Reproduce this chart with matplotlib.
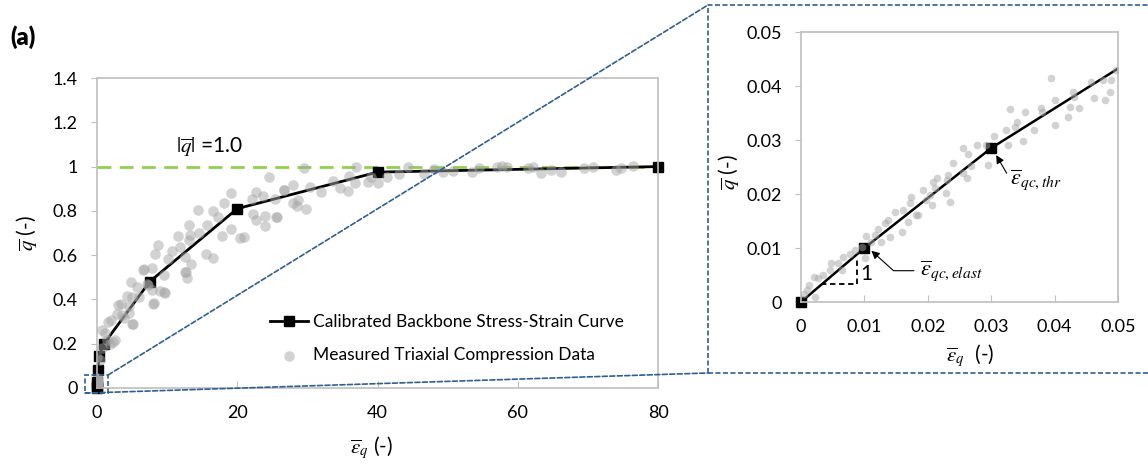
import numpy as np
import matplotlib
matplotlib.use('Agg')
import matplotlib.pyplot as plt
from matplotlib.patches import Rectangle, ConnectionPatch
from matplotlib.lines import Line2D
from matplotlib.ticker import FuncFormatter

plt.rcParams['font.family'] = ['Lato', 'DejaVu Sans']
plt.rcParams['mathtext.fontset'] = 'stix'

# calibrated backbone curve (strain in %, normalised deviator stress)
bb_eps = [0, 0.01, 0.03, 0.1, 0.3, 1.0, 7.5, 20, 40, 80]
bb_q = [0, 0.01, 0.0285, 0.08, 0.145, 0.2, 0.48, 0.81, 0.975, 1.0]

# measured triaxial data, small strains (shown in the zoom panel)
small_eps = [0.0005, 0.0009, 0.0012, 0.0022, 0.0020, 0.0027, 0.0035, 0.0046, 0.0048,
             0.0059, 0.0064, 0.0067, 0.0077, 0.0085, 0.0096, 0.0101, 0.0103, 0.0111,
             0.0117, 0.0122, 0.0126, 0.0132, 0.0138, 0.0140, 0.0148, 0.0159, 0.0161,
             0.0169, 0.0172, 0.0174, 0.0182, 0.0193, 0.0203, 0.0206, 0.0208, 0.0215,
             0.0229, 0.0232, 0.0235, 0.0240, 0.0256, 0.0262, 0.0264, 0.0269, 0.0278,
             0.0292, 0.0295, 0.0305, 0.0324, 0.0326, 0.0329, 0.0337, 0.0341, 0.0350,
             0.0353, 0.0368, 0.0379, 0.0380, 0.0394, 0.0400, 0.0400, 0.0421, 0.0424,
             0.0429, 0.0430, 0.0439, 0.0457, 0.0463, 0.0476, 0.0479, 0.0487, 0.0489,
             0.0497, 0.0230, 0.0256, 0.0211, 0.0198, 0.0185]
small_q = [0.0015, 0.0022, 0.0031, 0.0010, 0.0047, 0.0044, 0.0050, 0.0059, 0.0072,
           0.0072, 0.0059, 0.0084, 0.0088, 0.0096, 0.0102, 0.0081, 0.0122, 0.0112,
           0.0124, 0.0136, 0.0112, 0.0146, 0.0152, 0.0121, 0.0167, 0.0130, 0.0170,
           0.0149, 0.0183, 0.0195, 0.0161, 0.0207, 0.0198, 0.0180, 0.0223, 0.0229,
           0.0201, 0.0235, 0.0186, 0.0257, 0.0238, 0.0229, 0.0275, 0.0251, 0.0291,
           0.0291, 0.0254, 0.0307, 0.0319, 0.0291, 0.0357, 0.0325, 0.0334, 0.0299,
           0.0351, 0.0319, 0.0359, 0.0351, 0.0414, 0.0374, 0.0328, 0.0342, 0.0362,
           0.0389, 0.0380, 0.0360, 0.0408, 0.0377, 0.0411, 0.0375, 0.0389, 0.0411,
           0.0430, 0.0226, 0.0285, 0.0211, 0.0189, 0.0161]

# measured triaxial data, large strains
large_eps = [0.05, 0.4, 0.7, 0.7, 1.1, 1.4, 1.5, 1.9, 2.0, 2.3, 2.6, 2.8, 3.0, 3.4,
             3.5, 3.9, 4.3, 4.5, 4.6, 4.9, 4.95, 5.05, 5.2, 5.7, 6.0, 6.6, 6.7, 7.1,
             7.3, 7.8, 7.9, 8.0, 8.1, 8.3, 8.7, 9.0, 9.5, 9.5, 9.7, 10.1, 10.7, 11.6,
             11.8, 12.5, 12.6, 12.7, 12.9, 13.1, 13.1, 13.3, 13.4, 14.4, 14.5, 15.5,
             15.7, 16.6, 16.6, 17.3, 17.8, 18.1, 19.1, 19.1, 20.4, 20.95, 22.1, 22.3,
             22.7, 22.7, 23.6, 23.9, 24.0, 24.5, 25.4, 25.5, 25.7, 26.6, 26.6, 28.0,
             28.0, 28.5, 28.7, 29.5, 29.8, 30.4, 31.9, 33.6, 34.6, 35.8, 35.9, 36.8,
             37.0, 38.6, 39.0, 40.0, 41.4, 43.0, 44.3, 46.6, 48.0, 49.4, 50.8, 53.5,
             54.5, 57.1, 57.8, 58.5, 61.4, 62.1, 63.3, 64.7, 66.2, 69.5, 70.7, 74.0,
             74.7, 76.5]
large_q = [0.141, 0.126, 0.179, 0.261, 0.25, 0.219, 0.30, 0.20, 0.306, 0.209, 0.216,
           0.336, 0.374, 0.378, 0.33, 0.314, 0.414, 0.369, 0.339, 0.479, 0.291, 0.411,
           0.29, 0.456, 0.411, 0.534, 0.537, 0.471, 0.464, 0.441, 0.540, 0.38, 0.384,
           0.604, 0.646, 0.44, 0.434, 0.512, 0.427, 0.581, 0.619, 0.686, 0.636, 0.524,
           0.592, 0.524, 0.499, 0.736, 0.670, 0.689, 0.560, 0.806, 0.701, 0.605, 0.737,
           0.799, 0.589, 0.774, 0.686, 0.836, 0.88, 0.719, 0.679, 0.683, 0.854, 0.787,
           0.887, 0.757, 0.865, 0.776, 0.730, 0.955, 0.852, 0.772, 0.772, 0.892, 0.892,
           0.919, 0.835, 0.824, 0.850, 0.994, 0.809, 0.906, 0.884, 0.937, 0.904, 0.889,
           0.959, 0.925, 1.0, 0.93, 0.952, 0.925, 0.952, 0.967, 1.0, 0.967, 0.989,
           0.974, 0.98, 0.974, 0.994, 1.0, 1.004, 1.0, 0.994, 1.0, 0.97, 0.985, 0.977,
           0.994, 0.997, 0.985, 0.994, 1.004]

meas_eps = np.array(small_eps + large_eps)
meas_q = np.array(small_q + large_q)
bb_e = np.array(bb_eps)
bb_y = np.array(bb_q)

fig = plt.figure(figsize=(11.48, 4.66), dpi=100)
ax = fig.add_axes([0.0845, 0.1674, 0.4887, 0.6652])
axz = fig.add_axes([0.6977, 0.3519, 0.2761, 0.5794])

spine_col = '#bfbfbf'
dot_col = '#a6a6a6'
fmt = FuncFormatter(lambda v, p: '%g' % round(v, 4))

for a in (ax, axz):
    for s in a.spines.values():
        s.set_color(spine_col)
        s.set_linewidth(1.2)
    a.tick_params(axis='x', direction='in', length=5, color=spine_col, labelsize=13, pad=12)
    a.tick_params(axis='y', direction='out', length=4, color=spine_col, labelsize=13, pad=10)
    a.xaxis.set_major_formatter(fmt)
    a.yaxis.set_major_formatter(fmt)

# main plot
ax.plot([0, 80], [1, 1], color='#92d050', lw=2, ls=(0, (5, 3)), zorder=1)
ax.plot(bb_eps, bb_q, color='black', lw=2, marker='s', ms=7, zorder=2, clip_on=False,
        label='Calibrated Backbone Stress-Strain Curve')
ax.scatter(meas_eps, meas_q, s=58, color=dot_col, alpha=0.5, lw=0, zorder=3,
           label='Measured Triaxial Compression Data')
ax.set_xlim(0, 80)
ax.set_ylim(0, 1.4)
ax.set_xticks([0, 20, 40, 60, 80])
ax.set_yticks(np.arange(0, 1.41, 0.2))
ax.text(16, 1.035, r'$|\overline{q}|$ =1.0', fontsize=15, ha='center', va='bottom')
ax.set_ylabel(r'$\overline{q}$ (-)', fontsize=15)
ax.yaxis.set_label_coords(-0.102, 0.5)
ax.set_xlabel(r'$\overline{\varepsilon}_q$ (-)', fontsize=15)
ax.xaxis.set_label_coords(0.49, -0.15)
ax.legend(loc='upper left', bbox_to_anchor=(0.28, 0.29), frameon=False, fontsize=12.5,
          handlelength=2.2, handletextpad=0.3, labelspacing=1.0)

# zoom panel
axz.plot(bb_eps, bb_q, color='black', lw=1.8, zorder=2)
inside = bb_e <= 0.05
axz.plot(bb_e[inside], bb_y[inside], ls='none', marker='s', ms=7, color='black',
         zorder=2, clip_on=False)
axz.scatter(meas_eps, meas_q, s=30, color=dot_col, alpha=0.5, lw=0, zorder=3)
axz.set_xlim(0, 0.05)
axz.set_ylim(0, 0.05)
axz.set_xticks(np.arange(0, 0.051, 0.01))
axz.set_yticks(np.arange(0, 0.051, 0.01))
axz.set_ylabel(r'$\overline{q}$ (-)', fontsize=15)
axz.yaxis.set_label_coords(-0.186, 0.48)
axz.set_xlabel(r'$\overline{\varepsilon}_q$  (-)', fontsize=15)
axz.xaxis.set_label_coords(0.533, -0.15)

# slope triangle
axz.plot([0.0031, 0.0088], [0.0033, 0.0033], color='black', lw=1.3, ls=(0, (3, 2)))
axz.plot([0.0088, 0.0088], [0.0033, 0.0081], color='black', lw=1.3, ls=(0, (3, 2)))
axz.text(0.0093, 0.0052, '1', fontsize=15, va='center', ha='left')

axz.annotate(r'$\overline{\varepsilon}_{qc,elast}$', xy=(0.0111, 0.0095), xytext=(0.0187, 0.0058),
             fontsize=16, va='center', ha='left',
             arrowprops=dict(arrowstyle='-|>', color='black', lw=0.8, mutation_scale=12,
                             connectionstyle='angle,angleA=0,angleB=138,rad=0',
                             shrinkA=2, shrinkB=0))
axz.annotate(r'$\overline{\varepsilon}_{qc,thr}$', xy=(0.0308, 0.0272), xytext=(0.0330, 0.0226),
             fontsize=16, va='center', ha='left',
             arrowprops=dict(arrowstyle='-|>', color='black', lw=0.8, mutation_scale=12,
                             connectionstyle='angle,angleA=0,angleB=120,rad=0',
                             shrinkA=1, shrinkB=0))

# zoom callout
blue = '#2f5f8f'
dash = (0, (3, 1.5))
ax.add_patch(Rectangle((-1.7, -0.023), 3.3, 0.082, fill=False, ec=blue, lw=1.2,
                       ls=dash, clip_on=False, zorder=4))
fig.add_artist(Line2D([0.6167, 0.6167, 1.01], [0.1996, 0.9893, 0.9893],
                      color=blue, lw=1.2, ls=dash, transform=fig.transFigure))
fig.add_artist(Line2D([0.6167, 1.01], [0.1996, 0.1996],
                      color=blue, lw=1.2, ls=dash, transform=fig.transFigure))
for xa, ya, yf in ((1.6, 0.059, 0.9893), (-1.7, -0.023, 0.1996)):
    fig.add_artist(ConnectionPatch(xyA=(xa, ya), coordsA=ax.transData,
                                   xyB=(0.6167, yf), coordsB=fig.transFigure,
                                   color=blue, lw=1.2, ls=dash))

fig.text(0.009, 0.92, '(a)', fontsize=17, fontweight='heavy', ha='left', va='center')

fig.savefig('out.png', dpi=100)
